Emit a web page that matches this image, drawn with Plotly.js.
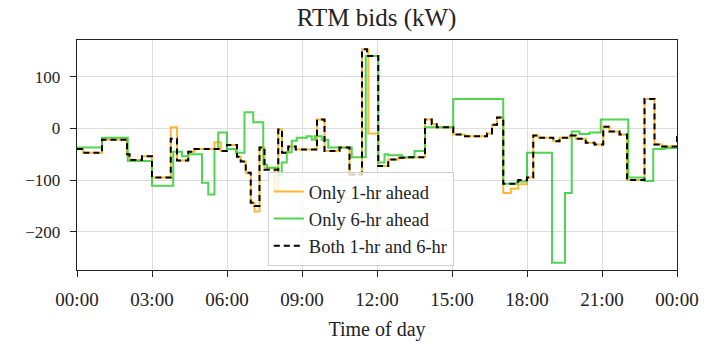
<!DOCTYPE html>
<html>
<head>
<meta charset="utf-8">
<script src="https://cdn.plot.ly/plotly-3.0.1.min.js"></script>
<style>
  html, body { margin: 0; padding: 0; background: #fff; }
  #chart { width: 704px; height: 348px; }
</style>
</head>
<body>
<div id="chart"></div>
<script>
// Step-change times (hours of day) and RTM bid levels (kW) for each strategy.
const oneHrTimes = [0, 0.25, 1.0, 2.0, 2.1, 2.6, 3.0, 3.75, 4.0, 4.45, 4.7, 5.5, 5.75, 6.0, 6.4, 6.55, 6.75, 6.95, 7.1, 7.3, 7.5, 7.9, 8.05, 8.2, 8.45, 8.75, 9.6, 9.9, 10.5, 10.9, 11.4, 11.65, 12.05, 12.45, 12.85, 13.25, 13.92, 14.19, 14.39, 15.05, 15.52, 16.4, 16.6, 16.8, 17.05, 17.35, 17.65, 18.0, 18.25, 18.45, 19.05, 19.3, 19.7, 19.95, 20.35, 20.7, 21.05, 21.3, 21.7, 22.0, 22.7, 23.1, 23.4, 24];
const oneHrBids  = [-40, -47, -22, -50, -61, -54, -95, 2, -62, -45, -40, -27, -44, -32, -55, -64, -86, -144, -161, -37, -76, -118, -2, -47, -35, -41, 17, -44, -37, -89, 153, -10, -73, -60, -57, -56, 17, 8, 2, -12, -15, -10, 7, 21, -125, -117, -108, -95, -14, -18, -25, -18, -14, -20, -28, -31, 3, -6, -12, -100, 57, -31, -35, -35];

const sixHrTimes = [0, 1.0, 2.03, 3.0, 3.85, 4.2, 4.45, 5.0, 5.25, 5.5, 5.65, 6.0, 6.35, 6.7, 7.05, 7.45, 7.6, 8.05, 8.19, 8.39, 8.59, 8.79, 9.19, 9.39, 9.52, 9.79, 10.05, 10.99, 11.55, 12.05, 12.3, 12.45, 13.0, 13.5, 13.92, 15.05, 17.05, 17.6, 18.0, 19.0, 19.52, 19.79, 20.1, 20.5, 20.95, 22.05, 22.7, 23.05, 23.5, 24];
const sixHrBids  = [-37, -18, -63, -111, -45, -54, -50, -105, -128, -40, -8, -40, -47, 31, 12, -70, -76, -90, -66, -46, -24, -18, -15, -22, -15, -22, -37, -56, 140, -66, -50, -52, -56, -44, 2, 57, -107, -103, -47, -260, -125, -6, -11, -8, 17, -95, -102, -40, -38, -38];

const bothTimes = [0, 0.25, 1.0, 2.0, 2.1, 2.6, 3.0, 3.75, 4.0, 4.45, 4.7, 5.5, 5.75, 6.0, 6.4, 6.55, 6.75, 6.95, 7.1, 7.3, 7.5, 8.05, 8.2, 8.45, 8.75, 9.6, 9.9, 10.5, 10.9, 11.4, 11.6, 12.05, 12.45, 12.85, 13.25, 13.92, 14.19, 14.39, 15.05, 15.52, 16.4, 16.6, 16.8, 17.05, 17.65, 18.0, 18.25, 18.45, 19.05, 19.3, 19.7, 19.95, 20.35, 20.7, 21.05, 21.3, 21.7, 22.0, 22.7, 23.1, 23.4, 24];
const bothBids  = [-40, -47, -22, -50, -61, -54, -95, -20, -62, -45, -40, -40, -44, -32, -55, -64, -86, -144, -150, -37, -80, -2, -47, -35, -41, 17, -44, -37, -89, 153, 140, -73, -60, -57, -56, 17, 8, 2, -12, -15, -10, 7, 21, -107, -100, -95, -14, -18, -25, -18, -14, -20, -28, -31, 3, -6, -12, -100, 57, -31, -35, -12];

const hourTicks = [0, 3, 6, 9, 12, 15, 18, 21, 24];
const hourTickLabels = ['00:00', '03:00', '06:00', '09:00', '12:00', '15:00', '18:00', '21:00', '00:00'];
const bidTicks = [-200, -100, 0, 100];

const serif = 'Liberation Serif, Times New Roman, serif';

const traces = [
  {
    x: oneHrTimes, y: oneHrBids, name: 'Only 1-hr ahead',
    mode: 'lines', line: { shape: 'hv', color: 'rgba(255,165,0,0.8)', width: 2 }
  },
  {
    x: sixHrTimes, y: sixHrBids, name: 'Only 6-hr ahead',
    mode: 'lines', line: { shape: 'hv', color: 'rgba(50,205,50,0.85)', width: 2 }
  },
  {
    x: bothTimes, y: bothBids, name: 'Both 1-hr and 6-hr',
    mode: 'lines', line: { shape: 'hv', color: '#000', width: 2, dash: '6px,4px' }
  }
];

const layout = {
  width: 704, height: 348,
  margin: { l: 77, r: 27, t: 40, b: 78 },
  paper_bgcolor: '#fff', plot_bgcolor: '#fff',
  font: { family: serif, color: '#222', size: 16 },
  title: { text: 'RTM bids (kW)', font: { family: serif, size: 25, color: '#222' }, x: 0.535, xanchor: 'center', y: 0.95, yanchor: 'middle' },
  showlegend: true,
  legend: {
    x: 0.318, y: 0.426, xanchor: 'left', yanchor: 'top',
    bgcolor: 'rgba(255,255,255,0.8)', bordercolor: '#d0d0d0', borderwidth: 1,
    font: { family: serif, size: 18.5, color: '#222' }
  },
  xaxis: {
    range: [0, 24], tickvals: hourTicks, ticktext: hourTickLabels,
    showgrid: true, gridcolor: '#dedede', gridwidth: 1, zeroline: false,
    showline: true, linecolor: '#222', linewidth: 1.3, mirror: true,
    ticks: 'outside', ticklen: 6, tickcolor: '#222', ticklabelstandoff: 6,
    tickfont: { family: serif, size: 19, color: '#222' },
    title: { text: 'Time of day', font: { family: serif, size: 20, color: '#222' }, standoff: 13 }
  },
  yaxis: {
    range: [-274, 171], tickvals: bidTicks,
    showgrid: true, gridcolor: '#dedede', gridwidth: 1, zeroline: false,
    showline: true, linecolor: '#222', linewidth: 1.3, mirror: true,
    ticks: 'outside', ticklen: 6, tickcolor: '#222', ticklabelstandoff: 6,
    tickfont: { family: serif, size: 17, color: '#222' }
  }
};

Plotly.newPlot('chart', traces, layout, { displayModeBar: false, staticPlot: true });
</script>
</body>
</html>
